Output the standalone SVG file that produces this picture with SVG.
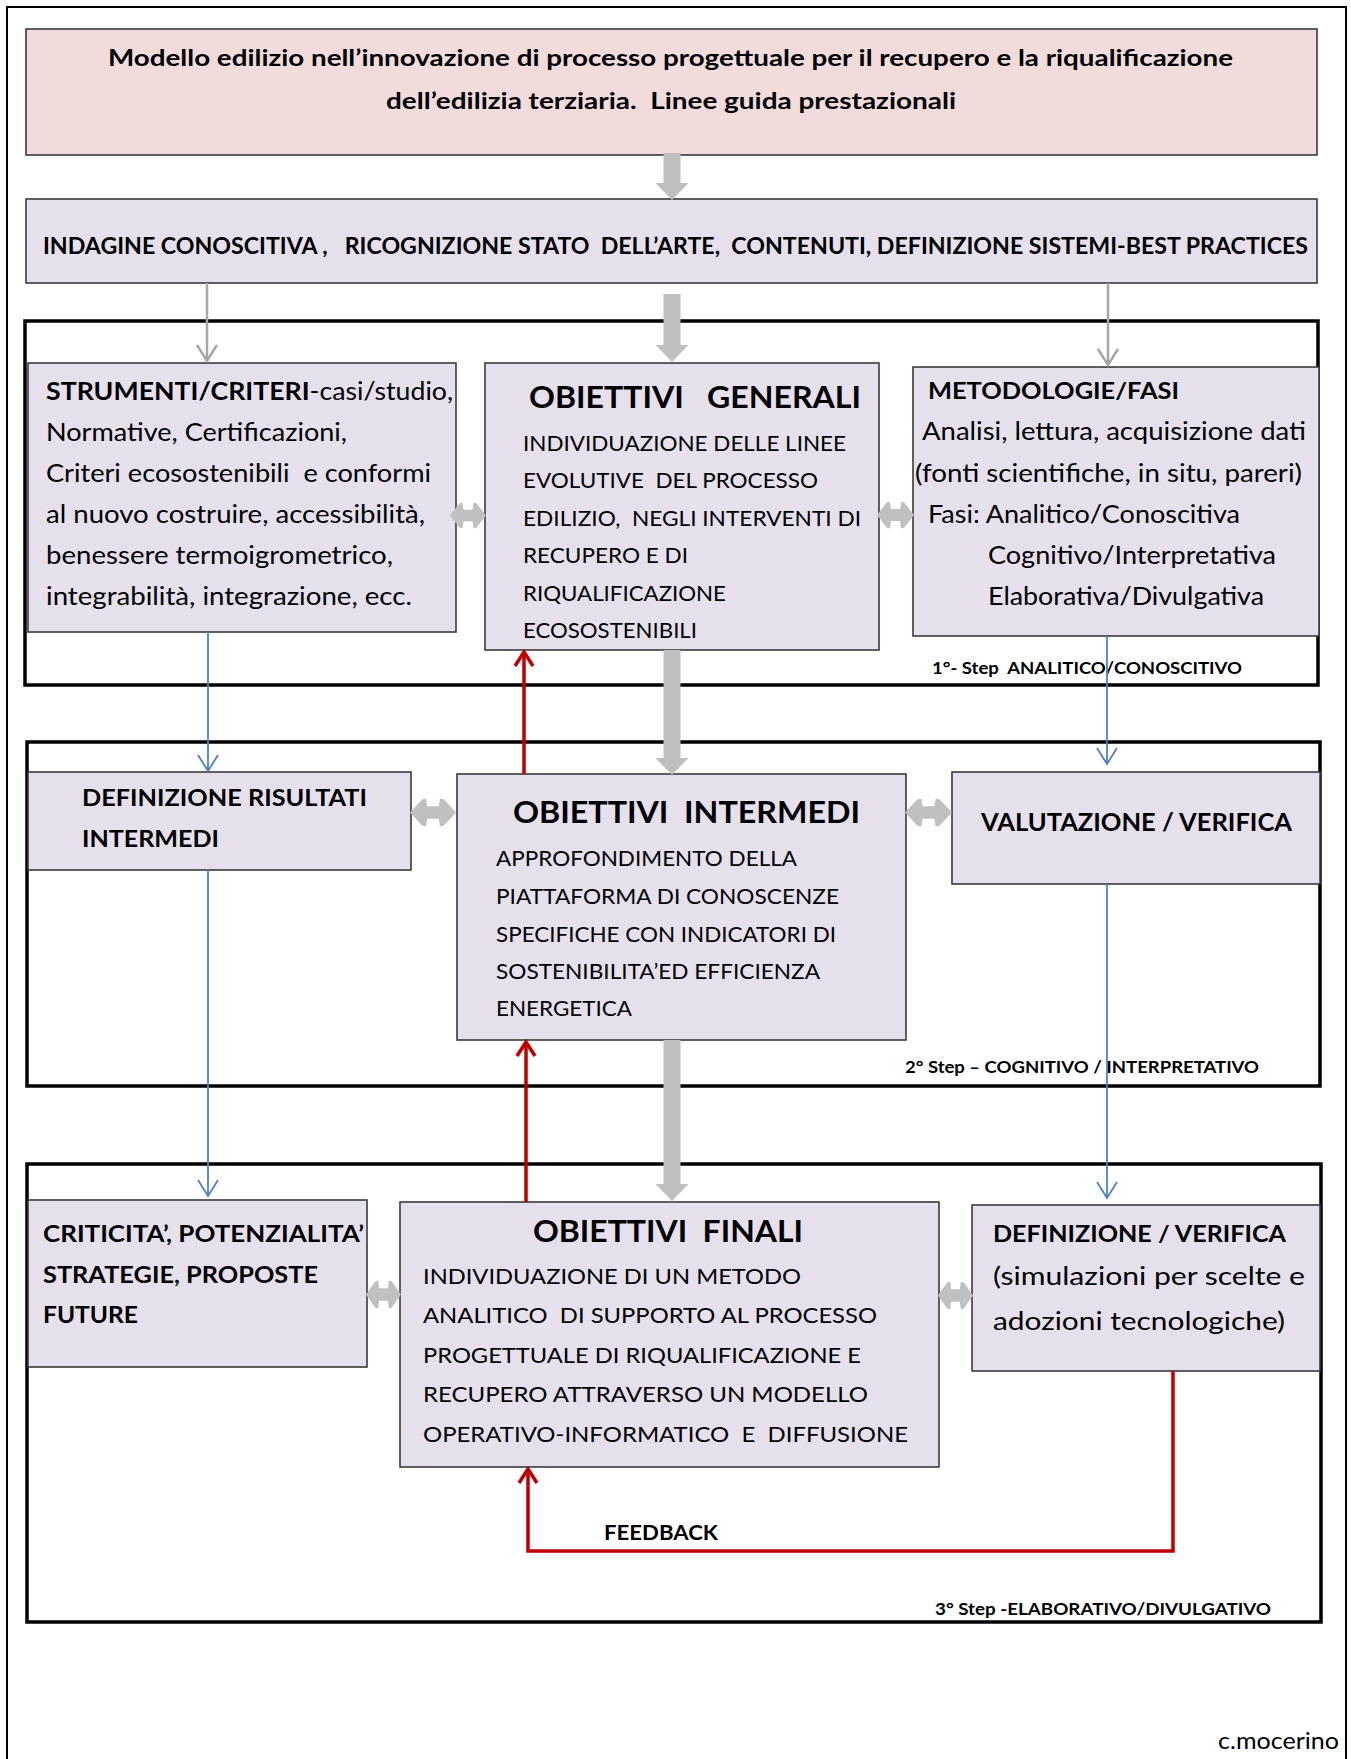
<svg xmlns="http://www.w3.org/2000/svg" width="1351" height="1759" viewBox="0 0 1351 1759">
<style>
text{font-family:Lato,"Liberation Sans",sans-serif;fill:#000}
.b{font-weight:bold}
.box{fill:#e5e0ec;stroke:#3a3a3a;stroke-width:1.6}
.title{fill:#f2dcdb;stroke:#3a3a3a;stroke-width:1.6}
.frame{fill:none;stroke:#000;stroke-width:3.5}
.thick{fill:#bfbfbf}
.gline{fill:none;stroke:#a6a6a6;stroke-width:2.5}
.bline{fill:none;stroke:#4f81bd;stroke-width:1.8}
.rline{fill:none;stroke:#c00000;stroke-width:3.5}
</style>
<defs>
<marker id="mg" markerUnits="userSpaceOnUse" markerWidth="24" markerHeight="26" viewBox="-2 -13 24 26" refX="18" refY="0" orient="auto">
<path d="M2 -10 L18 0 L2 10" fill="none" stroke="#a6a6a6" stroke-width="2.5"/>
</marker>
<marker id="mb" markerUnits="userSpaceOnUse" markerWidth="24" markerHeight="26" viewBox="-2 -13 24 26" refX="18" refY="0" orient="auto">
<path d="M2 -10 L18 0 L2 10" fill="none" stroke="#4f81bd" stroke-width="1.8"/>
</marker>
<marker id="mr" markerUnits="userSpaceOnUse" markerWidth="24" markerHeight="26" viewBox="-2 -13 24 26" refX="16" refY="0" orient="auto">
<path d="M2 -9 L16 0 L2 9" fill="none" stroke="#c00000" stroke-width="3.5"/>
</marker>
<symbol id="dbl" viewBox="0 0 40 28" preserveAspectRatio="none">
<path d="M0 14 L10 2 Q12 0 14 1 L15 8 L25 8 L26 1 Q28 0 30 2 L40 14 L30 26 Q28 28 26 27 L25 20 L15 20 L14 27 Q12 28 10 26 Z" fill="#c0c0c0"/>
</symbol>
</defs>

<rect x="0" y="0" width="1351" height="1759" fill="#fff"/>
<rect id="page" x="7" y="7" width="1339" height="1800" fill="none" stroke="#000" stroke-width="2"/>

<g id="frames">
<rect x="25" y="321" width="1293" height="364" class="frame"/>
<rect x="27" y="742" width="1293" height="344" class="frame"/>
<rect x="27" y="1164" width="1294" height="458" class="frame"/>
</g>

<g id="n-title">
<rect x="26" y="29" width="1291" height="126" class="title"/>
<text class="b" x="108" y="66" font-size="23" textLength="1125" lengthAdjust="spacingAndGlyphs">Modello edilizio nell’innovazione di processo progettuale per il recupero e la riqualificazione</text>
<text class="b" x="386" y="109" font-size="23" textLength="570" lengthAdjust="spacingAndGlyphs" xml:space="preserve">dell’edilizia terziaria.  Linee guida prestazionali</text>
</g>

<g id="n-indagine">
<rect x="26" y="199" width="1291" height="84" class="box"/>
<text class="b" x="43" y="254" font-size="22" textLength="1265" lengthAdjust="spacingAndGlyphs" xml:space="preserve">INDAGINE CONOSCITIVA ,   RICOGNIZIONE STATO  DELL’ARTE,  CONTENUTI, DEFINIZIONE SISTEMI-BEST PRACTICES</text>
</g>

<g id="n-strumenti">
<rect x="28" y="363" width="428" height="269" class="box"/>
<text x="46" y="400" font-size="25" textLength="407" lengthAdjust="spacingAndGlyphs"><tspan class="b">STRUMENTI/CRITERI</tspan>-casi/studio,</text>
<text x="46" y="441" font-size="25" textLength="301" lengthAdjust="spacingAndGlyphs">Normative, Certificazioni,</text>
<text x="46" y="482" font-size="25" textLength="385" lengthAdjust="spacingAndGlyphs" xml:space="preserve">Criteri ecosostenibili  e conformi</text>
<text x="46" y="523" font-size="25" textLength="379" lengthAdjust="spacingAndGlyphs">al nuovo costruire, accessibilità,</text>
<text x="46" y="564" font-size="25" textLength="347" lengthAdjust="spacingAndGlyphs">benessere termoigrometrico,</text>
<text x="46" y="605" font-size="25" textLength="366" lengthAdjust="spacingAndGlyphs">integrabilità, integrazione, ecc.</text>
</g>

<g id="n-generali">
<rect x="485" y="363" width="394" height="287" class="box"/>
<text class="b" x="529" y="408" font-size="31" textLength="332" lengthAdjust="spacingAndGlyphs" xml:space="preserve">OBIETTIVI   GENERALI</text>
<text x="523" y="451" font-size="22" textLength="323" lengthAdjust="spacingAndGlyphs">INDIVIDUAZIONE DELLE LINEE</text>
<text x="523" y="488" font-size="22" textLength="295" lengthAdjust="spacingAndGlyphs" xml:space="preserve">EVOLUTIVE  DEL PROCESSO</text>
<text x="523" y="526" font-size="22" textLength="338" lengthAdjust="spacingAndGlyphs" xml:space="preserve">EDILIZIO,  NEGLI INTERVENTI DI</text>
<text x="523" y="563" font-size="22" textLength="165" lengthAdjust="spacingAndGlyphs">RECUPERO E DI</text>
<text x="523" y="601" font-size="22" textLength="203" lengthAdjust="spacingAndGlyphs">RIQUALIFICAZIONE</text>
<text x="523" y="638" font-size="22" textLength="174" lengthAdjust="spacingAndGlyphs">ECOSOSTENIBILI</text>
</g>

<g id="n-metodologie">
<rect x="913" y="367" width="406" height="269" class="box"/>
<text class="b" x="928" y="399" font-size="23" textLength="251" lengthAdjust="spacingAndGlyphs">METODOLOGIE/FASI</text>
<text x="922" y="440" font-size="25" textLength="384" lengthAdjust="spacingAndGlyphs">Analisi, lettura, acquisizione dati</text>
<text x="915" y="482" font-size="25" textLength="387" lengthAdjust="spacingAndGlyphs">(fonti scientifiche, in situ, pareri)</text>
<text x="928" y="523" font-size="25" textLength="312" lengthAdjust="spacingAndGlyphs">Fasi: Analitico/Conoscitiva</text>
<text x="988" y="564" font-size="25" textLength="288" lengthAdjust="spacingAndGlyphs">Cognitivo/Interpretativa</text>
<text x="988" y="605" font-size="25" textLength="276" lengthAdjust="spacingAndGlyphs">Elaborativa/Divulgativa</text>
</g>

<g id="l-step1">
<text class="b" x="932" y="674" font-size="17" textLength="310" lengthAdjust="spacingAndGlyphs" xml:space="preserve">1°- Step  ANALITICO/CONOSCITIVO</text>
</g>

<g id="n-risultati">
<rect x="28" y="772" width="383" height="98" class="box"/>
<text class="b" x="82" y="806" font-size="23" textLength="285" lengthAdjust="spacingAndGlyphs">DEFINIZIONE RISULTATI</text>
<text class="b" x="82" y="847" font-size="23" textLength="137" lengthAdjust="spacingAndGlyphs">INTERMEDI</text>
</g>

<g id="n-intermedi">
<rect x="457" y="774" width="449" height="266" class="box"/>
<text class="b" x="513" y="823" font-size="31" textLength="347" lengthAdjust="spacingAndGlyphs" xml:space="preserve">OBIETTIVI  INTERMEDI</text>
<text x="496" y="866" font-size="22" textLength="301" lengthAdjust="spacingAndGlyphs">APPROFONDIMENTO DELLA</text>
<text x="496" y="904" font-size="22" textLength="343" lengthAdjust="spacingAndGlyphs">PIATTAFORMA DI CONOSCENZE</text>
<text x="496" y="942" font-size="22" textLength="340" lengthAdjust="spacingAndGlyphs">SPECIFICHE CON INDICATORI DI</text>
<text x="496" y="979" font-size="22" textLength="324" lengthAdjust="spacingAndGlyphs">SOSTENIBILITA’ED EFFICIENZA</text>
<text x="496" y="1016" font-size="22" textLength="136" lengthAdjust="spacingAndGlyphs">ENERGETICA</text>
</g>

<g id="n-valutazione">
<rect x="952" y="772" width="368" height="112" class="box"/>
<text class="b" x="981" y="831" font-size="24" textLength="311" lengthAdjust="spacingAndGlyphs">VALUTAZIONE / VERIFICA</text>
</g>

<g id="l-step2">
<text class="b" x="905" y="1073" font-size="17" textLength="354" lengthAdjust="spacingAndGlyphs">2° Step – COGNITIVO / INTERPRETATIVO</text>
</g>

<g id="n-criticita">
<rect x="28" y="1200" width="339" height="167" class="box"/>
<text class="b" x="43" y="1242" font-size="23" textLength="321" lengthAdjust="spacingAndGlyphs">CRITICITA’, POTENZIALITA’</text>
<text class="b" x="43" y="1283" font-size="23" textLength="275" lengthAdjust="spacingAndGlyphs">STRATEGIE, PROPOSTE</text>
<text class="b" x="43" y="1323" font-size="23" textLength="95" lengthAdjust="spacingAndGlyphs">FUTURE</text>
</g>

<g id="n-finali">
<rect x="400" y="1202" width="539" height="265" class="box"/>
<text class="b" x="533" y="1242" font-size="31" textLength="270" lengthAdjust="spacingAndGlyphs" xml:space="preserve">OBIETTIVI  FINALI</text>
<text x="423" y="1284" font-size="22" textLength="378" lengthAdjust="spacingAndGlyphs">INDIVIDUAZIONE DI UN METODO</text>
<text x="423" y="1323" font-size="22" textLength="454" lengthAdjust="spacingAndGlyphs" xml:space="preserve">ANALITICO  DI SUPPORTO AL PROCESSO</text>
<text x="423" y="1363" font-size="22" textLength="438" lengthAdjust="spacingAndGlyphs">PROGETTUALE DI RIQUALIFICAZIONE E</text>
<text x="423" y="1402" font-size="22" textLength="445" lengthAdjust="spacingAndGlyphs">RECUPERO ATTRAVERSO UN MODELLO</text>
<text x="423" y="1442" font-size="22" textLength="485" lengthAdjust="spacingAndGlyphs" xml:space="preserve">OPERATIVO-INFORMATICO  E  DIFFUSIONE</text>
</g>

<g id="n-defverifica">
<rect x="972" y="1205" width="348" height="166" class="box"/>
<text class="b" x="993" y="1242" font-size="23" textLength="293" lengthAdjust="spacingAndGlyphs">DEFINIZIONE / VERIFICA</text>
<text x="993" y="1285" font-size="25" textLength="312" lengthAdjust="spacingAndGlyphs">(simulazioni per scelte e</text>
<text x="993" y="1330" font-size="25" textLength="292" lengthAdjust="spacingAndGlyphs">adozioni tecnologiche)</text>
</g>

<g id="l-step3">
<text class="b" x="935" y="1615" font-size="17" textLength="336" lengthAdjust="spacingAndGlyphs">3° Step -ELABORATIVO/DIVULGATIVO</text>
</g>

<g id="l-author">
<text x="1218" y="1749" font-size="23" textLength="121" lengthAdjust="spacingAndGlyphs">c.mocerino</text>
</g>

<g id="connectors">
<path class="thick" d="M663.5 153 H680.5 V183 H688.5 L672 200 L655.5 183 H663.5 Z"/>
<path class="thick" d="M663.5 294 H680.5 V345 H688.5 L672 362 L655.5 345 H663.5 Z"/>
<path class="thick" d="M663.5 650 H680.5 V758 H688.5 L672 775 L655.5 758 H663.5 Z"/>
<path class="thick" d="M663.5 1040 H680.5 V1184 H688.5 L672 1201 L655.5 1184 H663.5 Z"/>

<path class="gline" d="M207 283 V361" marker-end="url(#mg)"/>
<path class="gline" d="M1108 283 V365" marker-end="url(#mg)"/>

<path class="bline" d="M208 632 V771" marker-end="url(#mb)"/>
<path class="bline" d="M208 870 V1196" marker-end="url(#mb)"/>
<path class="bline" d="M1107 636 V764" marker-end="url(#mb)"/>
<path class="bline" d="M1107 884 V1198" marker-end="url(#mb)"/>

<path class="rline" d="M524 774 V652" marker-end="url(#mr)"/>
<path class="rline" d="M526 1202 V1042" marker-end="url(#mr)"/>
<path class="rline" d="M1173 1371 V1551 H528 V1469" marker-end="url(#mr)"/>
<text class="b" x="604" y="1540" font-size="20" textLength="114" lengthAdjust="spacingAndGlyphs">FEEDBACK</text>

<use href="#dbl" x="450" y="502" width="36" height="27"/>
<use href="#dbl" x="877" y="501" width="37" height="28"/>
<use href="#dbl" x="410" y="798" width="46" height="29"/>
<use href="#dbl" x="905" y="798" width="47" height="29"/>
<use href="#dbl" x="366" y="1280" width="35" height="29"/>
<use href="#dbl" x="938" y="1281" width="35" height="29"/>
</g>
</svg>
